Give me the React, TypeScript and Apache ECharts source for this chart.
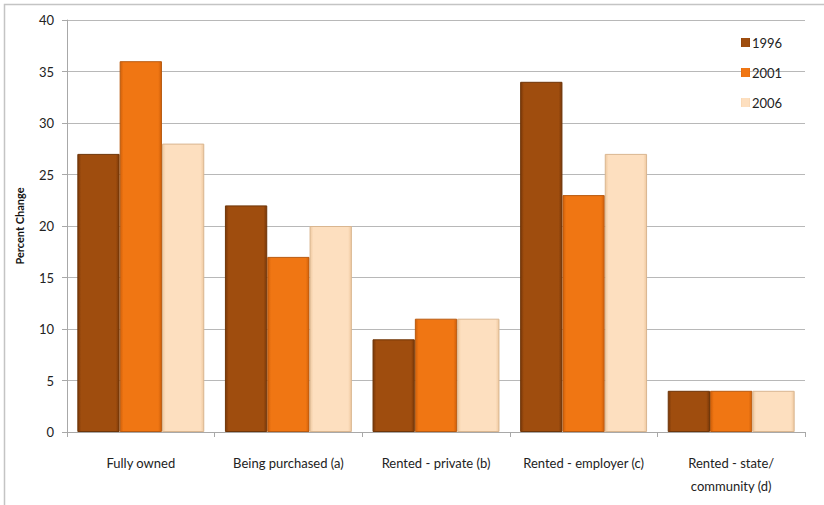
import React, { useEffect, useRef } from "react";
import * as echarts from "echarts";

const categories = [
  "Fully owned",
  "Being purchased (a)",
  "Rented - private (b)",
  "Rented - employer (c)",
  "Rented - state/\ncommunity (d)",
];
const seriesNames = ["1996", "2001", "2006"];
const values1996 = [27, 22, 9, 34, 4];
const values2001 = [36, 17, 11, 23, 4];
const values2006 = [28, 20, 11, 27, 4];
const yTicks = { min: 0, max: 40, interval: 5 };

const colors = [
  { base: "#9F4D0E", edge: "#7A3808", border: "#6E3508" },
  { base: "#F07613", edge: "#D0600A", border: "#B85A10" },
  { base: "#FDDFBF", edge: "#EFC9A0", border: "#D9B690" },
];

export default function App() {
  const ref = useRef<HTMLDivElement>(null);
  useEffect(() => {
    if (!ref.current) return;
    const chart = echarts.init(ref.current, null, { renderer: "svg" });
    const font = "Lato, 'Open Sans', sans-serif";
    const data = [values1996, values2001, values2006];
    chart.setOption({
      animation: false,
      textStyle: { fontFamily: font },
      graphic: [
        {
          type: "rect",
          shape: { x: 4.5, y: 4.5, width: 900, height: 600 },
          style: { fill: "none", stroke: "#c4c4c4", lineWidth: 1.5 },
          silent: true,
        },
      ],
      grid: { left: 67, right: 19, top: 20, bottom: 73, containLabel: false },
      legend: {
        orient: "vertical",
        left: 736,
        top: 31,
        itemWidth: 9,
        itemHeight: 9,
        itemGap: 17,
        itemStyle: { borderWidth: 0 },
        icon: "rect",
        textStyle: { fontSize: 13, color: "#222", fontFamily: font, padding: [0, 0, 0, -3] },
        data: seriesNames,
      },
      xAxis: {
        type: "category",
        data: categories,
        axisLine: { lineStyle: { color: "#a8a8a8", width: 1 } },
        axisTick: { show: true, alignWithLabel: false, length: 5, lineStyle: { color: "#a8a8a8" } },
        axisLabel: { color: "#222", fontSize: 13, margin: 19, lineHeight: 23, interval: 0, fontFamily: font },
      },
      yAxis: {
        type: "value",
        min: yTicks.min,
        max: yTicks.max,
        interval: yTicks.interval,
        name: "Percent Change",
        nameLocation: "middle",
        nameGap: 42,
        nameTextStyle: { fontWeight: "bold", fontSize: 11, color: "#111", fontFamily: font },
        axisLine: { show: true, lineStyle: { color: "#a8a8a8" } },
        axisTick: { show: true, length: 5, lineStyle: { color: "#a8a8a8" } },
        axisLabel: { color: "#222", fontSize: 13, margin: 13, fontFamily: font },
        splitLine: { lineStyle: { color: "#b8b8b8", width: 1 } },
      },
      series: seriesNames.map((name, i) => ({
        name,
        type: "bar",
        data: data[i],
        barGap: "0%",
        barCategoryGap: "14%",
        itemStyle: {
          color: {
            type: "linear",
            x: 0,
            y: 0,
            x2: 1,
            y2: 0,
            colorStops: [
              { offset: 0, color: colors[i].edge },
              { offset: 0.08, color: colors[i].base },
              { offset: 0.92, color: colors[i].base },
              { offset: 1, color: colors[i].edge },
            ],
          },
          borderColor: colors[i].border,
          borderWidth: 1,
        },
      })),
    });
    return () => chart.dispose();
  }, []);
  return (
    <div
      ref={ref}
      style={{ position: "fixed", left: 0, top: 0, width: 824, height: 505, background: "#fff" }}
    />
  );
}
